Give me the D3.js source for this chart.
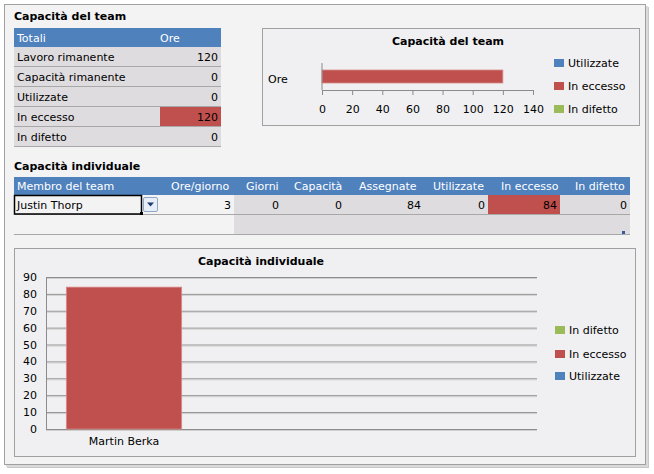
<html><head>
<meta charset="utf-8">
<title>Capacità del team</title>
<script src="https://d3js.org/d3.v7.min.js"></script>
<style>
  body { margin: 0; background: #ffffff; }
  svg text { font-family: "DejaVu Sans", Verdana, sans-serif; font-size: 11px; fill: #000; }
</style>
</head>
<body>
<svg id="sheet" width="654" height="474"></svg>
<script>
// --- data ---
const teamRowNames = ["Lavoro rimanente", "Capacità rimanente", "Utilizzate", "In eccesso", "In difetto"];
const teamRowHours = [120, 0, 0, 120, 0];

const teamSeries = ["Utilizzate", "In eccesso", "In difetto"];
const teamSeriesHours = [0, 120, 0];
const teamCategory = ["Ore"];
const teamTicks = [0, 20, 40, 60, 80, 100, 120, 140];

const indivColumns = ["Membro del team", "Ore/giorno", "Giorni", "Capacità", "Assegnate", "Utilizzate", "In eccesso", "In difetto"];
const indivRow = ["Justin Thorp", 3, 0, 0, 84, 0, 84, 0];

const members = ["Martin Berka"];
const indivSeries = ["Utilizzate", "In eccesso", "In difetto"];
const indivValues = { "Utilizzate": [0], "In eccesso": [84], "In difetto": [0] };
const indivTicks = [0, 10, 20, 30, 40, 50, 60, 70, 80, 90];
const indivLegend = ["In difetto", "In eccesso", "Utilizzate"];

const seriesColor = d3.scaleOrdinal()
    .domain(["Utilizzate", "In eccesso", "In difetto"])
    .range(["#4f81bd", "#c0504d", "#9bbb59"]);

const blue = "#4f81bd";
const red = "#c0504d";
const cellGray = "#dfdcdf";
const lineGray = "#a8a8a8";

let svg = d3.select("svg#sheet");

// frame + shadow
svg.append("rect").attr("x", 7).attr("y", 7).attr("width", 642).attr("height", 461).attr("fill", "#c8c8c8");
svg.append("rect").attr("x", 6).attr("y", 6).attr("width", 642).attr("height", 461).attr("fill", "#dadada");
svg.append("rect").attr("x", 4.5).attr("y", 4.5).attr("width", 641).attr("height", 460)
    .attr("fill", "#f3f3f3").attr("stroke", "#a0a0a0");

// ---------- team table ----------
svg.append("text").attr("x", 14).attr("y", 20).style("font-weight", "bold").text("Capacità del team");

let tTable = svg.append("g");
let rowH = 20;
tTable.append("rect").attr("x", 14).attr("y", 28).attr("width", 207).attr("height", 19).attr("fill", blue);
tTable.append("text").attr("x", 17).attr("y", 41.5).style("fill", "#fff").text("Totali");
tTable.append("text").attr("x", 160).attr("y", 41.5).style("fill", "#fff").text("Ore");

teamRowNames.forEach((name, i) => {
    let y = 47 + i * rowH;
    tTable.append("rect").attr("x", 14).attr("y", y).attr("width", 207).attr("height", rowH).attr("fill", cellGray);
    if (name == "In eccesso" && teamRowHours[i] > 0) {
        tTable.append("rect").attr("x", 160).attr("y", y).attr("width", 61).attr("height", rowH - 1).attr("fill", red);
    }
    tTable.append("line").attr("x1", 14).attr("x2", 221).attr("y1", y + rowH - 0.5).attr("y2", y + rowH - 0.5)
        .attr("stroke", lineGray);
    tTable.append("text").attr("x", 17).attr("y", y + 14).text(name);
    tTable.append("text").attr("x", 218).attr("y", y + 14).attr("text-anchor", "end").text(teamRowHours[i]);
});

// ---------- team chart ----------
svg.append("rect").attr("x", 262.5).attr("y", 28.5).attr("width", 377).attr("height", 97)
    .attr("fill", "#f0f0f2").attr("stroke", "#a0a0a0");
svg.append("text").attr("x", 448).attr("y", 45).attr("text-anchor", "middle")
    .style("font-weight", "bold").text("Capacità del team");

let tx = d3.scaleLinear().domain([0, 140]).range([322, 533]);
let ty = d3.scaleBand().domain(teamCategory).range([63, 90]).padding(0.35);

let teamStack = d3.stack().keys(teamSeries)([Object.fromEntries(teamSeries.map((s, i) => [s, teamSeriesHours[i]]))]);
svg.append("g").selectAll("rect").data(teamStack).join("rect")
    .attr("x", d => tx(d[0][0]))
    .attr("width", d => tx(d[0][1]) - tx(d[0][0]))
    .attr("y", ty("Ore"))
    .attr("height", ty.bandwidth())
    .attr("fill", d => seriesColor(d.key))
    .attr("stroke", d => d[0][1] > d[0][0] ? "#d88a88" : "none")
    .attr("stroke-width", 0.8);

let txAxis = svg.append("g").attr("transform", "translate(0,90)")
    .call(d3.axisBottom(tx).tickValues(teamTicks).tickSize(5).tickSizeOuter(0).tickPadding(10));
txAxis.selectAll("path, line").attr("stroke", "#8a8a8a");
txAxis.selectAll("text").style("font-size", "11px").style("font-family", "DejaVu Sans, Verdana, sans-serif");
svg.append("line").attr("x1", 322).attr("x2", 322).attr("y1", 63).attr("y2", 90).attr("stroke", "#8a8a8a");
svg.append("text").attr("x", 268).attr("y", 83).text("Ore");

let tLegend = svg.append("g").selectAll("g").data(teamSeries).join("g")
    .attr("transform", (d, i) => "translate(554," + [63, 86, 109][i] + ")");
tLegend.append("rect").attr("x", 0).attr("y", -4).attr("width", 10).attr("height", 8).attr("fill", d => seriesColor(d));
tLegend.append("text").attr("x", 14).attr("y", 4).text(d => d);

// ---------- individual table ----------
svg.append("text").attr("x", 14).attr("y", 170).style("font-weight", "bold").text("Capacità individuale");

let colRight = [null, 231, 279, 342, 421, 485, 557, 627];
let colLeft = [17, 171, 246, 294, 359, 433, 501, 575];
let iTable = svg.append("g");
iTable.append("rect").attr("x", 14).attr("y", 177).attr("width", 616).attr("height", 18).attr("fill", blue);
indivColumns.forEach((c, i) => {
    iTable.append("text").attr("x", colLeft[i]).attr("y", 190).style("fill", "#fff").text(c);
});
// data area
iTable.append("rect").attr("x", 234).attr("y", 195).attr("width", 396).attr("height", 40).attr("fill", cellGray);
iTable.append("rect").attr("x", 488).attr("y", 195).attr("width", 72).attr("height", 19).attr("fill", red);
iTable.append("line").attr("x1", 14).attr("x2", 630).attr("y1", 214.5).attr("y2", 214.5).attr("stroke", lineGray);
iTable.append("line").attr("x1", 14).attr("x2", 630).attr("y1", 234.5).attr("y2", 234.5).attr("stroke", lineGray);
indivRow.forEach((v, i) => {
    if (i == 0) {
        iTable.append("text").attr("x", 17).attr("y", 209).text(v);
    } else {
        iTable.append("text").attr("x", colRight[i]).attr("y", 209).attr("text-anchor", "end").text(v);
    }
});
// selected cell + dropdown
iTable.append("rect").attr("x", 14.5).attr("y", 195.5).attr("width", 127).attr("height", 18.5)
    .attr("fill", "none").attr("stroke", "#000").attr("stroke-width", 1.5);
iTable.append("rect").attr("x", 140).attr("y", 212).attr("width", 3).attr("height", 3).attr("fill", "#000");
iTable.append("rect").attr("x", 143.5).attr("y", 197.5).attr("width", 14).attr("height", 14)
    .attr("fill", "#e8eef7").attr("stroke", "#8ea6c8").attr("rx", 1.5);
iTable.append("path").attr("d", "M147,202.5 L154,202.5 L150.5,206.5 Z").attr("fill", "#1f3d6e");
iTable.append("rect").attr("x", 622).attr("y", 231).attr("width", 3).attr("height", 3).attr("fill", "#3a5a9a");

// ---------- individual chart ----------
svg.append("rect").attr("x", 14.5).attr("y", 248.5).attr("width", 621).attr("height", 208)
    .attr("fill", "#f0f0f2").attr("stroke", "#a0a0a0");
svg.append("text").attr("x", 261).attr("y", 265).attr("text-anchor", "middle")
    .style("font-weight", "bold").text("Capacità individuale");

let iy = d3.scaleLinear().domain([0, 90]).range([429, 277]);
let ix = d3.scaleBand().domain(members).range([46, 202]).paddingInner(0.15).paddingOuter(0.15);

let grid = svg.append("g");
indivTicks.forEach(t => {
    grid.append("line").attr("x1", 46).attr("x2", 537).attr("y1", iy(t) + 0.5).attr("y2", iy(t) + 0.5)
        .attr("stroke", "#8c8c8c");
    grid.append("line").attr("x1", 46).attr("x2", 537).attr("y1", iy(t) + 1.5).attr("y2", iy(t) + 1.5)
        .attr("stroke", "#cfcfcf");
});
svg.append("line").attr("x1", 46.5).attr("x2", 46.5).attr("y1", 277).attr("y2", 430).attr("stroke", "#8c8c8c");

let indivStack = d3.stack().keys(indivSeries)(members.map((m, j) => {
    let row = { member: m };
    indivSeries.forEach(s => row[s] = indivValues[s][j]);
    return row;
}));
svg.append("g").selectAll("g").data(indivStack).join("g")
    .attr("fill", d => seriesColor(d.key))
    .selectAll("rect").data(d => d).join("rect")
    .attr("x", d => ix(d.data.member))
    .attr("width", ix.bandwidth())
    .attr("y", d => iy(d[1]))
    .attr("height", d => iy(d[0]) - iy(d[1]))
    .attr("stroke", d => d[1] > d[0] ? "#d88a88" : "none")
    .attr("stroke-width", 0.8);

svg.append("g").selectAll("text").data(indivTicks).join("text")
    .attr("x", 37).attr("y", d => iy(d) + 4).attr("text-anchor", "end").text(d => d);
svg.append("g").selectAll("text").data(members).join("text")
    .attr("x", d => ix(d) + ix.bandwidth() / 2).attr("y", 445).attr("text-anchor", "middle").text(d => d);

let iLegend = svg.append("g").selectAll("g").data(indivLegend).join("g")
    .attr("transform", (d, i) => "translate(555," + [330, 354, 376][i] + ")");
iLegend.append("rect").attr("x", 0).attr("y", -4).attr("width", 10).attr("height", 8).attr("fill", d => seriesColor(d));
iLegend.append("text").attr("x", 14).attr("y", 4).text(d => d);
</script>
</body>
</html>
